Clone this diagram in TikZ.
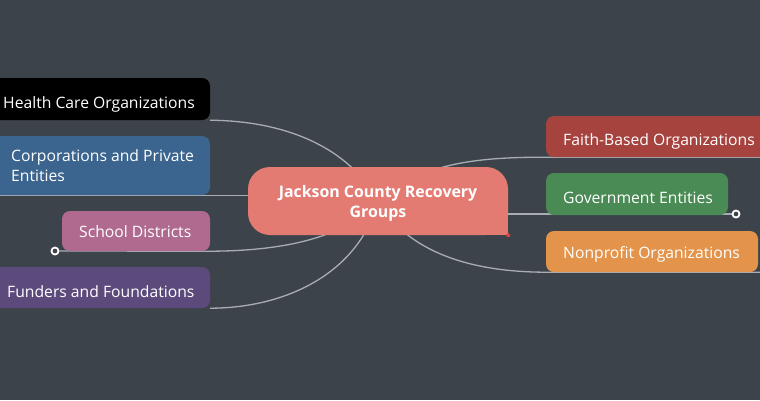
\documentclass[tikz,border=0pt]{standalone}
\usepackage{fontspec}
\setmainfont{Open Sans}
\definecolor{bgc}{HTML}{3D434A}
\definecolor{linec}{HTML}{A7ADB2}
\definecolor{centc}{HTML}{E47B73}
\definecolor{hcc}{HTML}{000000}
\definecolor{coc}{HTML}{3B658F}
\definecolor{sdc}{HTML}{B06A8F}
\definecolor{fuc}{HTML}{5D4A7D}
\definecolor{fbc}{HTML}{A7433F}
\definecolor{gec}{HTML}{4A8B55}
\definecolor{npc}{HTML}{E4934A}
\definecolor{dotc}{HTML}{E0433B}
\pgfdeclarelayer{bglayer}
\pgfdeclarelayer{edgelayer}
\pgfsetlayers{bglayer,edgelayer,main}
\tikzset{
  boxshape/.style={rectangle, rounded corners=8pt, inner sep=0pt},
  lbl/.style={anchor=base west, inner sep=0pt, text=white, font=\fontsize{15.7}{20}\selectfont, align=left},
  conn/.style={draw=linec, line width=1.3pt},
  marker/.style={circle, draw=white, fill=bgc, line width=1.8pt, minimum size=7pt, inner sep=0pt},
}
\begin{document}
\begin{tikzpicture}[x=1pt,y=-1pt]
\useasboundingbox (0,0) rectangle (760,400);
\clip (0,0) rectangle (760,400);
\begin{pgfonlayer}{bglayer}
  \fill[bgc] (0,0) rectangle (760,400);
\end{pgfonlayer}

% central node
\node[rectangle, rounded corners=22pt, fill=centc, minimum width=260pt, minimum height=68pt,
      inner sep=0pt] (cn) at (378,201) {};
\fill[centc] (cn.south east) rectangle ++(-24,-24);
\fill[dotc] (cn.south east) circle[radius=2pt];
\node[inner sep=0pt, text=white, align=center, font=\bfseries\fontsize{15.9}{20}\selectfont]
      (cnt) at ([yshift=-2pt]cn.center) {Jackson County Recovery\\Groups};

% left boxes
\node[boxshape, fill=hcc, minimum width=230pt, minimum height=42pt] (hc) at (95,99) {};
\node[boxshape, fill=coc, minimum width=230pt, minimum height=59pt] (co) at (95,165.5) {};
\node[boxshape, fill=sdc, minimum width=148pt, minimum height=40pt] (sd) at (136,231) {};
\node[boxshape, fill=fuc, minimum width=230pt, minimum height=41pt] (fu) at (95,287.5) {};
% right boxes
\node[boxshape, fill=fbc, minimum width=244pt, minimum height=41pt] (fb) at (668,136.5) {};
\node[boxshape, fill=gec, minimum width=182pt, minimum height=42pt] (ge) at (637,194) {};
\node[boxshape, fill=npc, minimum width=212pt, minimum height=41pt] (np) at (652,251.5) {};

% labels
\node[lbl] (hct) at (3,108) {Health Care Organizations};
\node[lbl, anchor=north west] (cot) at (11,149) {Corporations and Private\\Entities};
\node[lbl] (sdt) at (79,237) {School Districts};
\node[lbl] (fut) at (7,297) {Funders and Foundations};
\node[lbl] (fbt) at (563,145) {Faith-Based Organizations};
\node[lbl] (get) at (563,203) {Government Entities};
\node[lbl] (npt) at (563,258) {Nonprofit Organizations};

% markers
\node[marker] (sdm) at (55,251) {};
\node[marker] (gem) at (736,214) {};

% connectors
\begin{pgfonlayer}{edgelayer}
  \draw[conn] (cn.center) .. controls (350,150) and (290,121) .. (hc.south east);
  \draw[conn] (co.south -| cn.center) -- (co.south west);
  \draw[conn] (cn.center) .. controls (340,245) and (260,251) .. (sd.south east) -- (sdm);
  \draw[conn] (cn.center) .. controls (360,270) and (290,308) .. (fu.south east);
  \draw[conn] (cn.center) .. controls (420,165) and (470,157) .. (fb.south west) -- (fb.south east);
  \draw[conn] (gem -| cn.center) -- (gem);
  \draw[conn] (cn.center) .. controls (400,240) and (450,272) .. (np.south west) -- (np.south east) -- ++(20,0);
\end{pgfonlayer}
\end{tikzpicture}
\end{document}
